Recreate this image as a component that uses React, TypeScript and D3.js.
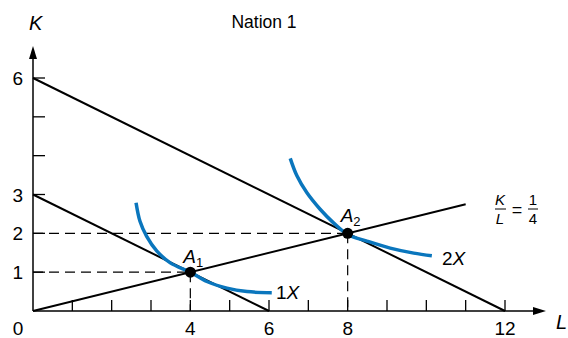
import * as d3 from "d3"
import React from "react"

// input bundles (L, K)
const budgetLow: [number, number][] = [[0, 3], [6, 0]]
const budgetHigh: [number, number][] = [[0, 6], [12, 0]]
const ray: [number, number][] = [[0, 0], [11, 2.75]]

// isoquants
const iso1L = [2.62, 2.72, 2.89, 3.15, 3.49, 4, 4.42, 4.93, 5.44, 6.07]
const iso1K = [2.79, 2.31, 1.92, 1.54, 1.24, 1, 0.76, 0.59, 0.5, 0.47]
const iso2L = [6.54, 6.71, 6.96, 7.3, 7.64, 8, 8.49, 9.08, 9.68, 10.14]
const iso2K = [3.93, 3.48, 3.05, 2.62, 2.27, 1.97, 1.8, 1.62, 1.49, 1.42]

const equilibria: [number, number][] = [[4, 1], [8, 2]]
const xTicks = d3.range(1, 13)
const yTicks = d3.range(1, 7)
const xLabels = [0, 4, 6, 8, 12]
const yLabels = [1, 2, 3, 6]

const W = 568
const H = 338
const FONT = "Liberation Sans, Arial, sans-serif"
const BLUE = "#0a76bd"

export default function App() {
  const x = d3.scaleLinear().domain([0, 12]).range([33, 505])
  const y = d3.scaleLinear().domain([0, 6]).range([311, 78])

  const seg = d3.line<[number, number]>()
    .x(d => x(d[0]))
    .y(d => y(d[1]))
  const curve = d3.line<[number, number]>()
    .x(d => x(d[0]))
    .y(d => y(d[1]))
    .curve(d3.curveCatmullRom)

  const iso1 = iso1L.map((l, i) => [l, iso1K[i]] as [number, number])
  const iso2 = iso2L.map((l, i) => [l, iso2K[i]] as [number, number])

  const x0 = x(0)
  const y0 = y(0)

  return (
    <svg width={W} height={H} style={{ position: "absolute", left: 0, top: 0 }}
      fontFamily={FONT}>
      <rect width={W} height={H} fill="#fff" />
      <text x={264} y={28} fontSize={17.5} textAnchor="middle">Nation 1</text>

      {/* axes */}
      <line x1={x0} y1={y0} x2={x0} y2={58} stroke="#000" strokeWidth={1.5} />
      <path d={`M${x0},46 L${x0 - 4},59 L${x0 + 4},59 Z`} fill="#000" />
      <line x1={x0} y1={y0} x2={534} y2={y0} stroke="#000" strokeWidth={1.5} />
      <path d={`M546,${y0} L533,${y0 - 4} L533,${y0 + 4} Z`} fill="#000" />
      {xTicks.map(t => (
        <line key={"xt" + t} x1={x(t)} x2={x(t)} y1={y0} y2={y0 - 11}
          stroke="#000" strokeWidth={1.3} />
      ))}
      {yTicks.map(t => (
        <line key={"yt" + t} x1={x0} x2={x0 + 12} y1={y(t)} y2={y(t)}
          stroke="#000" strokeWidth={1.3} />
      ))}
      {xLabels.map(t => (
        <text key={"xl" + t} x={t === 0 ? 18 : x(t)} y={335} fontSize={19}
          textAnchor="middle">{t}</text>
      ))}
      {yLabels.map(t => (
        <text key={"yl" + t} x={23} y={y(t) + 7} fontSize={19}
          textAnchor="end">{t}</text>
      ))}
      <text x={29} y={30} fontSize={20} fontStyle="italic">K</text>
      <text x={556} y={329} fontSize={20} fontStyle="italic">L</text>

      {/* dashed guides */}
      {equilibria.map(([l, k]) => (
        <g key={"g" + l} stroke="#000" strokeWidth={1.2} strokeDasharray="10,6">
          <line x1={x0} x2={x(l)} y1={y(k)} y2={y(k)} />
          <line x1={x(l)} x2={x(l)} y1={y(k)} y2={y0} />
        </g>
      ))}

      {/* budget lines and ray */}
      <path d={seg(budgetHigh) ?? ""} stroke="#000" strokeWidth={2} fill="none" />
      <path d={seg(budgetLow) ?? ""} stroke="#000" strokeWidth={2} fill="none" />
      <path d={seg(ray) ?? ""} stroke="#000" strokeWidth={2} fill="none" />

      {/* isoquants */}
      <path d={curve(iso1) ?? ""} stroke={BLUE} strokeWidth={3.5} fill="none" />
      <path d={curve(iso2) ?? ""} stroke={BLUE} strokeWidth={3.5} fill="none" />

      {equilibria.map(([l, k]) => (
        <circle key={"c" + l} cx={x(l)} cy={y(k)} r={5.5} fill="#000" />
      ))}

      <text x={x(4) - 7} y={y(1) - 9} fontSize={19} fontStyle="italic">A
        <tspan fontSize={13} fontStyle="normal" dy={4}>1</tspan></text>
      <text x={x(8) - 7} y={y(2) - 11} fontSize={19} fontStyle="italic">A
        <tspan fontSize={13} fontStyle="normal" dy={4}>2</tspan></text>
      <text x={276} y={299} fontSize={19}>1<tspan fontStyle="italic">X</tspan></text>
      <text x={442} y={265} fontSize={19}>2<tspan fontStyle="italic">X</tspan></text>

      {/* K/L = 1/4 */}
      <g fontSize={15}>
        <text x={500} y={205} textAnchor="middle" fontStyle="italic">K</text>
        <line x1={495} x2={506} y1={209} y2={209} stroke="#000" strokeWidth={1} />
        <text x={500} y={224} textAnchor="middle" fontStyle="italic">L</text>
        <text x={517} y={216} fontSize={18} textAnchor="middle">=</text>
        <text x={533} y={205} textAnchor="middle">1</text>
        <line x1={528} x2={538} y1={209} y2={209} stroke="#000" strokeWidth={1} />
        <text x={533} y={224} textAnchor="middle">4</text>
      </g>
    </svg>
  )
}
